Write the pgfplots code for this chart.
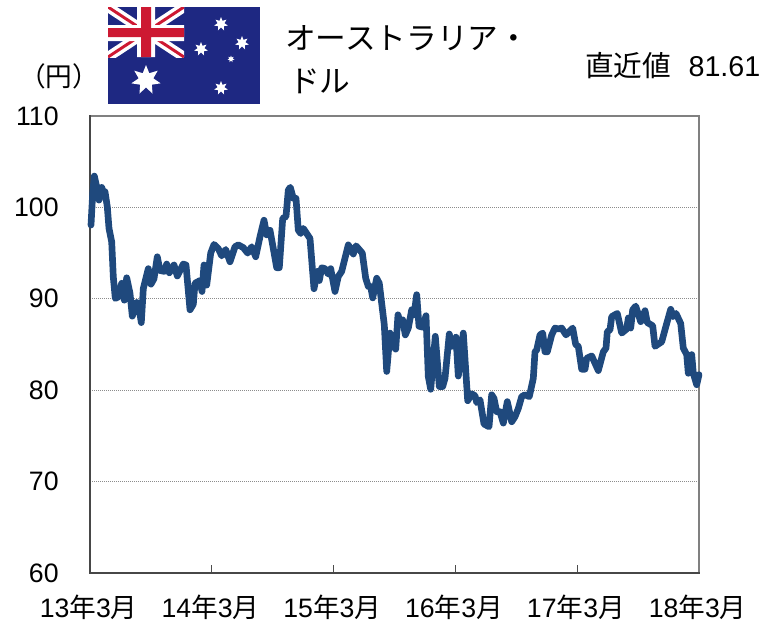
\documentclass[border=0pt]{standalone}
\usepackage{pgfplots}
\pgfplotsset{compat=1.18}
\usepackage{fontspec}
\setmainfont{Liberation Sans}
\newfontfamily\cjk{Noto Sans CJK JP}
\usetikzlibrary{shapes.geometric}
\definecolor{line}{RGB}{31,73,125}
\definecolor{flagblue}{RGB}{30,40,130}
\definecolor{flagred}{RGB}{205,25,50}
\newcommand\ym[2]{#1{\cjk 年}#2{\cjk 月}}
\begin{document}
\begin{tikzpicture}[x=0.75pt,y=-0.75pt]
\path[use as bounding box] (0,0) rectangle (760,625);
% flag
\fill[flagblue] (108,7) rectangle (260,104);
\begin{scope}
\clip (108,7) rectangle (184,57);
\draw[white,line width=7.5pt] (108,7) -- (184,57) (108,57) -- (184,7);
\draw[flagred,line width=2.2pt] (108,7) -- (184,57) (108,57) -- (184,7);
\fill[white] (108,25) rectangle (184,41) (137,7) rectangle (155,57);
\fill[flagred] (108,28) rectangle (184,37) (141,7) rectangle (151,57);
\end{scope}
\foreach \a/\b/\s in {146/80/15, 221/24/7, 201/49/7, 242/43/7, 231/59/3.5, 221/88/7}{
  \node[star,star points=7,star point ratio=2.0,fill=white,inner sep=0pt,minimum size=\s*2*0.75pt] at (\a,\b) {};
}
% texts
\node[anchor=center,font=\cjk\fontsize{20pt}{22pt}\selectfont,inner sep=0pt] at (59,76) {（円）};
\node[anchor=west,font=\cjk\fontsize{23pt}{26pt}\selectfont,inner sep=0pt] at (285,38) {オーストラリア・};
\node[anchor=west,font=\cjk\fontsize{23pt}{26pt}\selectfont,inner sep=0pt] at (289,81) {ドル};
\node[anchor=west,font=\fontsize{21.5pt}{24pt}\selectfont,inner sep=0pt] at (585,66) {{\cjk\fontsize{21.5pt}{24pt}\selectfont 直近値}\hspace{13pt}81.61};
\begin{axis}[
  at={(67.5pt,-429.75pt)},anchor=south west,
  scale only axis,width=456.75pt,height=342.75pt,
  xmin=90,xmax=699,ymin=60,ymax=110,
  xtick={90,211.8,333.6,455.4,577.2,699},
  xticklabels={{\ym{13}{3}},{\ym{14}{3}},{\ym{15}{3}},{\ym{16}{3}},{\ym{17}{3}},{\ym{18}{3}}},
  ytick={60,70,80,90,100,110},
  tick label style={font=\fontsize{20pt}{22pt}\selectfont},
  /pgf/number format/assume math mode=true,
  xticklabel style={yshift=-13pt,xshift=-1pt},
  yticklabel style={xshift=-20pt},
  major tick length=6pt,
  xtick pos=bottom,ytick pos=left,
  tick align=inside,
  ytick style={draw=none},
  xtick style={color=black!70,line width=0.6pt},
  ymajorgrids,
  grid style={black!45,line width=0.5pt,densely dotted},
  axis line style={color=black!50,line width=1.5pt},
  clip=false,
]
\draw[black!72,line width=1.5pt,line cap=rect] (rel axis cs:0,1) -- (rel axis cs:0,0) -- (rel axis cs:1,0);
\addplot[line,line width=5pt,line join=round,line cap=round] coordinates {
(91,98.07)(92.7,101.53)(94.3,103.43)(96.7,102.26)(99,100.8)(101.7,102.19)(103.3,101.72)(105,101.72)
(107.3,100.07)(109,97.7)(111.7,96.24)(113.3,92.4)(115.3,90.04)(118.3,90.2)(121.7,91.7)(124.3,89.85)
(126.7,92.3)(130,90.6)(132.3,88.1)(136.7,89.6)(139.3,88.8)(141.3,87.4)(143.3,91.1)(148.3,93.3)
(151,91.6)(154,92.2)(157.3,94.6)(160,93.1)(164.3,93.0)(166.7,93.8)(169.3,92.85)(174,93.7)
(177.3,92.5)(183.3,93.8)(186,93.7)(190,88.8)(193.3,89.4)(195,91.7)(200,92.0)(202,90.8)
(204,93.7)(206.7,91.5)(210.7,95.0)(214,95.95)(218.3,95.5)(221.7,94.7)(225.7,95.4)(230,94.05)
(235,95.7)(238.3,95.9)(243.3,95.6)(247.7,95.0)(251.7,95.7)(255.7,94.6)(260,96.8)(264,98.6)
(266.7,97.0)(270,97.5)(273.3,95.5)(276.7,93.4)(279.3,93.4)(282.7,98.8)(286,99.0)(288.3,101.9)
(290.3,102.2)(293.3,101.0)(296,101.0)(298.3,97.5)(300.7,97.15)(303.3,97.7)(310,96.6)(314,91.1)
(317.3,93.0)(319.3,92.0)(321.7,93.4)(325,93.3)(328.3,92.7)(330.7,93.3)(335,90.8)(338.3,92.45)
(341.7,93.0)(348.3,95.9)(353.3,94.9)(356,95.8)(362.3,95.0)(365.7,92.25)(368.3,91.35)(370.7,91.35)
(372.7,90.1)(376.7,92.25)(379.3,91.7)(381.7,89.5)(384.3,87.15)(386.7,82.05)(390,86.25)(393.3,84.8)
(395.7,84.5)(398,88.25)(400.7,87.15)(402.7,87.7)(405.3,86.05)(408.3,86.8)(411.7,88.8)(414,88.25)
(416.7,90.45)(419,87.0)(422.7,86.9)(426,88.15)(428.3,81.5)(430.7,80.1)(435.3,85.9)(439.3,80.4)
(442.7,80.4)(445,81.3)(449.3,86.15)(451.7,84.8)(456,85.8)(458.3,81.55)(463.3,86.25)(467.7,78.85)
(471.7,79.6)(475,79.4)(476.7,78.65)(480,78.95)(484,76.3)(489,76.0)(491.7,79.5)(494,79.1)
(496.7,77.65)(500,77.65)(503.3,76.4)(507.3,78.75)(511.7,76.55)(515,77.1)(518.3,78.0)(521.7,79.3)
(525,79.5)(529.3,79.3)(533.3,81.3)(535,84.2)(536.7,84.4)(540,86.05)(542.7,86.25)(545,84.2)
(547.3,84.2)(551.7,86.05)(555,86.8)(558.3,86.7)(561.7,86.8)(566,86.05)(572.7,86.8)(575.7,85.0)
(578.3,84.8)(581.7,82.3)(585,82.3)(586.7,83.5)(591.7,83.75)(598.3,82.15)(603.3,84.2)(606,84.6)
(607.3,86.4)(610,86.6)(611.7,88.05)(617.3,88.4)(621.7,86.25)(626.7,86.7)(628.3,87.9)(630.7,86.8)
(632.7,88.8)(635.7,89.2)(640.7,87.5)(645,88.7)(647.3,87.4)(652.7,87.05)(655,84.8)(661.7,85.3)
(666.7,87.3)(670.7,88.85)(673.3,88.05)(676,88.4)(680.7,87.3)(683.3,84.6)(686.7,83.9)(688.3,81.85)
(691.7,83.9)(693.3,81.85)(696.7,80.6)(699,81.7)
};
\end{axis}
\end{tikzpicture}
\end{document}
